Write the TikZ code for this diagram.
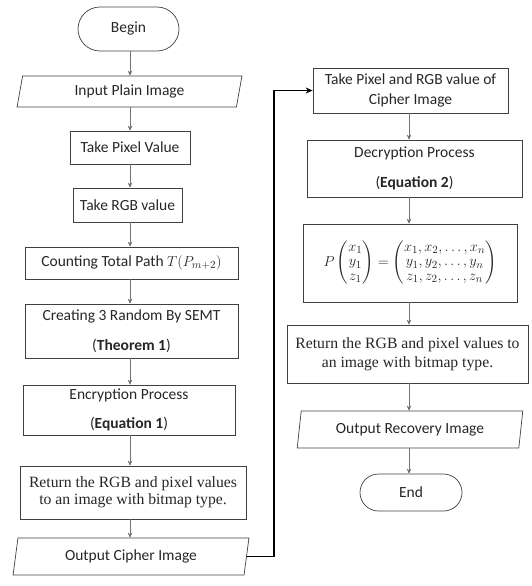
\documentclass[tikz,border=0pt]{standalone}
\usepackage{amsmath}
\usepackage{fontspec}
\setmainfont{Carlito}
\newfontfamily\tnr{Liberation Serif}
\usetikzlibrary{shapes.geometric,shapes.misc,arrows.meta}
\begin{document}
\begin{tikzpicture}[x=1pt,y=-1pt,
  box/.style={draw=black!75,line width=0.7pt,rectangle,inner sep=0pt,align=center,text=black!85,font=\fontsize{15.5}{19}\selectfont},
  term/.style={box,rounded rectangle},
  io/.style={box,trapezium,trapezium left angle=78,trapezium right angle=102,trapezium stretches=true},
  serifbox/.style={box,font=\tnr\fontsize{15.7}{17}\selectfont},
  arr/.style={draw=black!55,line width=0.6pt,-{Stealth[length=5pt,width=4.5pt,fill=black]}},
  thickarr/.style={draw=black,line width=1.8pt,-{Stealth[length=7pt,width=6pt]}}]
\useasboundingbox (0,0) rectangle (532,586);
% left column
\node[term,minimum width=101pt,minimum height=44pt] (begin) at (128.5,29) {Begin};
\node[io,minimum width=225pt,minimum height=31pt] (input) at (129.5,91.5) {Input Plain Image};
\node[box,minimum width=120pt,minimum height=33pt] (pix) at (130,147.5) {Take Pixel Value};
\node[box,minimum width=109pt,minimum height=34pt] (rgb) at (127.5,205) {Take RGB value};
\node[box,minimum width=213pt,minimum height=32pt] (count) at (131.5,263) {Counting Total Path $T(P_{m+2})$};
\node[box,minimum width=213pt,minimum height=54pt] (creat) at (131.5,331) {Creating 3 Random By SEMT\\[11pt](\textbf{Theorem 1})};
\node[box,minimum width=212pt,minimum height=50pt] (enc) at (129,410) {Encryption Process\\[10pt](\textbf{Equation 1})};
\node[serifbox,minimum width=226pt,minimum height=53pt] (ret1) at (133,492.5) {Return the RGB and pixel values\\to an image with bitmap type.};
\node[io,minimum width=236pt,minimum height=37pt] (outc) at (131,556.5) {Output Cipher Image};
% right column
\node[box,minimum width=195pt,minimum height=45pt] (take2) at (410.5,90.5) {Take Pixel and RGB value of\\[1pt]Cipher Image};
\node[box,minimum width=215pt,minimum height=57pt] (dec) at (414.5,168.5) {Decryption Process\\[11pt](\textbf{Equation 2})};
\node[box,minimum width=214pt,minimum height=78pt,font=\fontsize{15}{18}\selectfont] (eq) at (410,263) {$\renewcommand{\arraystretch}{0.8}P\begin{pmatrix}x_1\\y_1\\z_1\end{pmatrix}=\begin{pmatrix}x_1,x_2,\ldots,x_n\\y_1,y_2,\ldots,y_n\\z_1,z_2,\ldots,z_n\end{pmatrix}$};
\node[serifbox,minimum width=241pt,minimum height=58pt] (ret2) at (407.5,354) {Return the RGB and pixel values to\\[2pt]an image with bitmap type.};
\node[io,minimum width=226pt,minimum height=37pt] (outr) at (410,429.5) {Output Recovery Image};
\node[term,minimum width=102pt,minimum height=37pt] (endn) at (411,492.5) {End};
% connectors
\coordinate (cl) at (130,0);
\coordinate (cr) at (409,0);
\coordinate (bend) at (274,0);
\foreach \a/\b in {begin/input,input/pix,pix/rgb,rgb/count,count/creat,creat/enc,enc/ret1,ret1/outc}
  \draw[arr] (\a.south -| cl) -- (\b.north -| cl);
\foreach \a/\b in {take2/dec,dec/eq,eq/ret2,ret2/outr,outr/endn}
  \draw[arr] (\a.south -| cr) -- (\b.north -| cr);
\draw[thickarr] (outc.east) -- (outc.east -| bend) -- (bend |- take2.west) -- (take2.west);
\end{tikzpicture}
\end{document}
